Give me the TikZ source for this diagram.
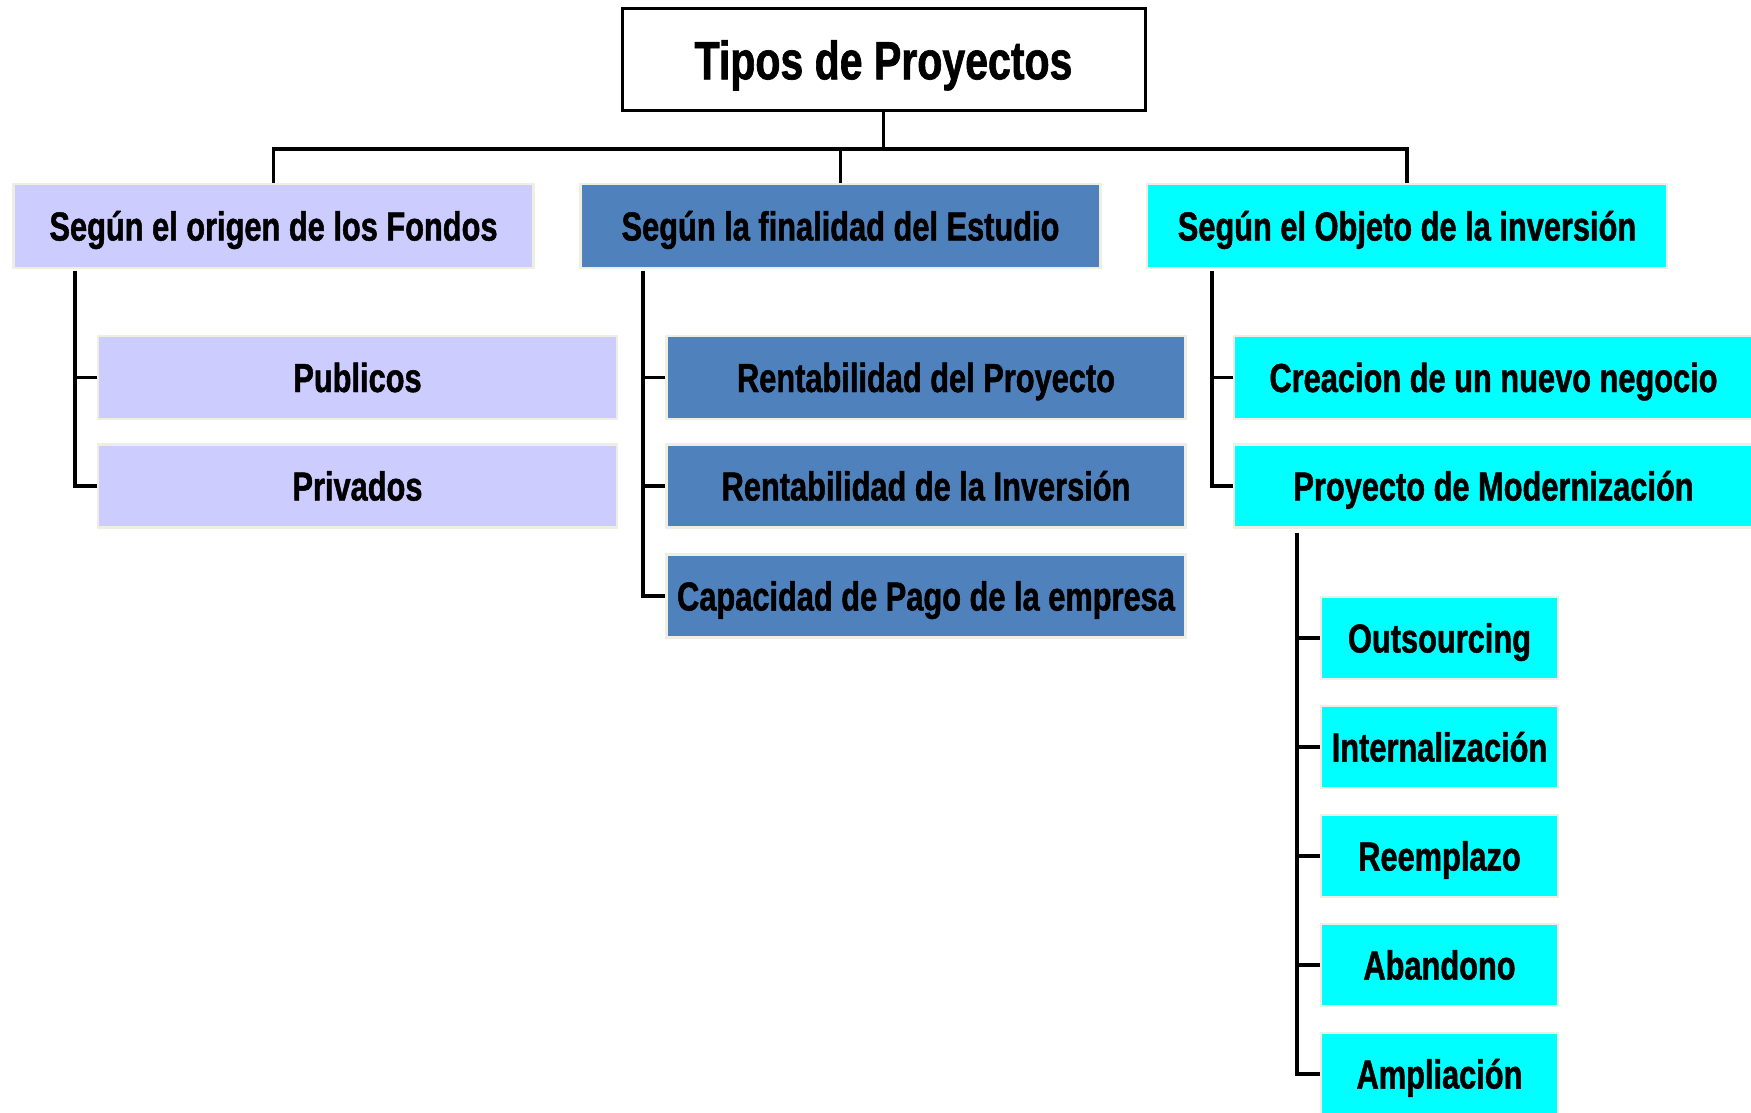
\documentclass[tikz,border=0pt]{standalone}
\usepackage{fontspec}
\setmainfont{Liberation Sans}[FakeStretch=0.76, BoldFeatures={FakeBold=1.2}]
\definecolor{lav}{RGB}{204,204,255}
\definecolor{steel}{RGB}{79,129,189}
\definecolor{aqua}{RGB}{0,255,255}
\definecolor{halo}{RGB}{238,238,226}
\begin{document}
\begin{tikzpicture}[x=0.5pt,y=-0.5pt,
  wire/.style={line width=1.6pt, draw=black},
  box/.style={rectangle, inner sep=0pt, draw=halo, line width=1.2pt,
    text height=14.5pt, text depth=0pt,
    font=\fontsize{20.25}{24}\selectfont\bfseries, text=black},
  lavbox/.style={box, fill=lav},
  bluebox/.style={box, fill=steel},
  aquabox/.style={box, fill=aqua},
  top/.style={minimum width=260pt, minimum height=42pt},
  mid/.style={minimum width=259.5pt, minimum height=41.5pt},
  low/.style={minimum width=118.5pt, minimum height=41pt},
  titlebox/.style={rectangle, inner sep=0pt, draw=black, line width=1.5pt, fill=white,
    minimum width=261.5pt, minimum height=51pt,
    text height=19.3pt, text depth=0pt,
    font=\fontsize{27}{32}\selectfont\bfseries}]
\useasboundingbox (0,0) rectangle (1751,1113);

% root
\node[titlebox] (T) at (883.5,60) {Tipos de Proyectos};

% first level
\node[lavbox, top]  (A) at (273.5,226) {Según el origen de los Fondos};
\node[bluebox, top] (B) at (840.5,226) {Según la finalidad del Estudio};
\node[aquabox, top] (C) at (1407,226) {Según el Objeto de la inversión};

% origin of funds
\node[lavbox, mid] (Pub)  at (357.5,377.5) {Publicos};
\node[lavbox, mid] (Priv) at (357.5,486) {Privados};

% purpose of the study
\node[bluebox, mid] (RP)  at (926,377.5) {Rentabilidad del Proyecto};
\node[bluebox, mid] (RI)  at (926,486) {Rentabilidad de la Inversión};
\node[bluebox, mid] (Cap) at (926,596) {Capacidad de Pago de la empresa};

% object of the investment
\node[aquabox, mid] (Cre) at (1493.5,377.5) {Creacion de un nuevo negocio};
\node[aquabox, mid] (Mod) at (1493.5,486) {Proyecto de Modernización};

% kinds of modernisation
\node[aquabox, low] (Out) at (1439.5,638) {Outsourcing};
\node[aquabox, low] (Int) at (1439.5,747) {Internalización};
\node[aquabox, low] (Ree) at (1439.5,856) {Reemplazo};
\node[aquabox, low] (Aba) at (1439.5,965) {Abandono};
\node[aquabox, low] (Amp) at (1439.5,1074) {Ampliación};

% root connectors
\coordinate (bar) at (0,149);
\draw[wire] (T.south) -- (T.south |- bar);
\draw[wire] (A.north) |- (bar -| C.north) -- (C.north);
\draw[wire] (B.north) -- (B.north |- bar);

% branch stems
\coordinate (sA) at (75,271);
\draw[wire] (sA) |- (Priv.west);
\draw[wire] (sA |- Pub.west) -- (Pub.west);

\coordinate (sB) at (643,271);
\draw[wire] (sB) |- (Cap.west);
\draw[wire] (sB |- RP.west) -- (RP.west);
\draw[wire] (sB |- RI.west) -- (RI.west);

\coordinate (sC) at (1212,271);
\draw[wire] (sC) |- (Mod.west);
\draw[wire] (sC |- Cre.west) -- (Cre.west);

\coordinate (sM) at (1297,533);
\draw[wire] (sM) |- (Amp.west);
\foreach \n in {Out,Int,Ree,Aba}
  \draw[wire] (sM |- \n.west) -- (\n.west);
\end{tikzpicture}
\end{document}
